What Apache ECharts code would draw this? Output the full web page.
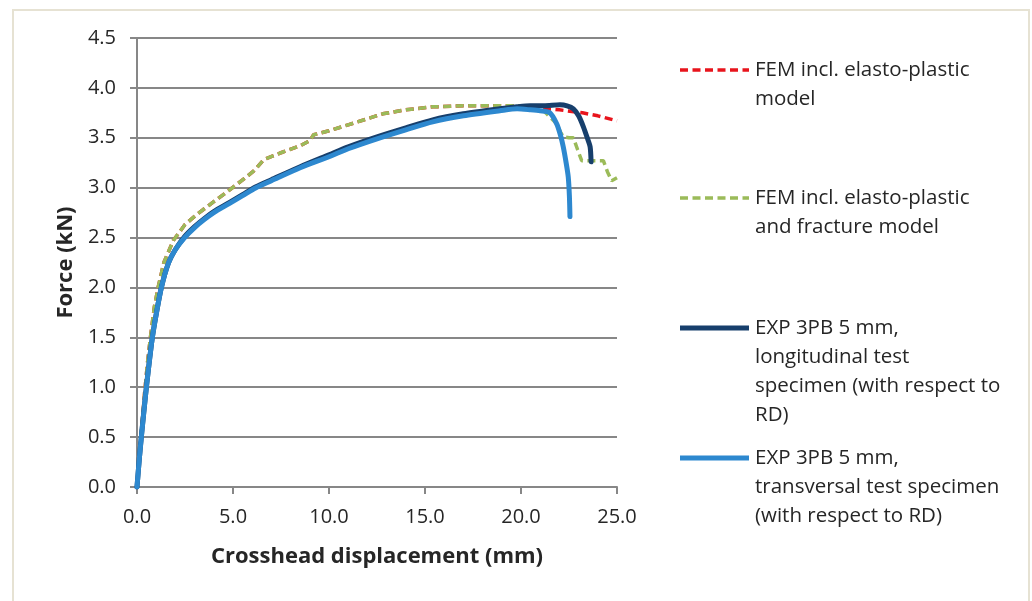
<!DOCTYPE html>
<html>
<head>
<meta charset="utf-8">
<script src="https://cdn.jsdelivr.net/npm/echarts@6/dist/echarts.min.js"></script>
<style>
  html, body { margin: 0; padding: 0; background: #ffffff; }
  #chart { width: 1032px; height: 601px; }
</style>
</head>
<body>
<div id="chart"></div>
<script>
// Force vs crosshead displacement, three-point bending, 5 mm specimens

// FEM incl. elasto-plastic model
const femPlasticX = [0, 0.12, 0.25, 0.4, 0.55, 0.7, 0.9, 1.1, 1.4, 1.89, 2.5, 3.17, 4.0, 4.7, 5.45, 6.1, 6.6, 7.5, 8.5, 9.0, 9.2, 10.0, 11.0, 12.0, 12.8, 14.0, 15.4, 17.0, 18.9, 20.0, 20.64, 21.0, 21.34, 22.0, 23.2, 24.0, 24.8, 25.0];
const femPlasticY = [0, 0.3, 0.6, 0.95, 1.25, 1.5, 1.8, 2.0, 2.25, 2.47, 2.63, 2.74, 2.86, 2.96, 3.07, 3.17, 3.28, 3.35, 3.42, 3.47, 3.53, 3.57, 3.63, 3.69, 3.74, 3.78, 3.81, 3.82, 3.82, 3.82, 3.81, 3.80, 3.79, 3.78, 3.75, 3.72, 3.68, 3.67];

// FEM incl. elasto-plastic and fracture model
const femFractureX = [0, 0.12, 0.25, 0.4, 0.55, 0.7, 0.9, 1.1, 1.4, 1.89, 2.5, 3.17, 4.0, 4.7, 5.45, 6.1, 6.6, 7.5, 8.5, 9.0, 9.2, 10.0, 11.0, 12.0, 12.8, 14.0, 15.4, 17.0, 18.9, 20.0, 20.64, 21.0, 21.34, 21.6, 21.86, 22.05, 22.2, 22.5, 22.73, 22.95, 23.16, 23.6, 24.29, 24.5, 24.72, 25.0];
const femFractureY = [0, 0.3, 0.6, 0.95, 1.25, 1.5, 1.8, 2.0, 2.25, 2.47, 2.63, 2.74, 2.86, 2.96, 3.07, 3.17, 3.28, 3.35, 3.42, 3.47, 3.53, 3.57, 3.63, 3.69, 3.74, 3.78, 3.81, 3.82, 3.82, 3.82, 3.81, 3.80, 3.74, 3.69, 3.64, 3.56, 3.51, 3.50, 3.50, 3.38, 3.27, 3.27, 3.27, 3.16, 3.07, 3.10];

// EXP 3PB 5 mm, longitudinal specimen
const expLongX = [0, 0.12, 0.25, 0.38, 0.5, 0.65, 0.8, 1.0, 1.27, 1.63, 2.0, 2.48, 3.0, 3.5, 4.0, 4.8, 5.5, 6.2, 7.0, 8.5, 10.0, 11.0, 12.5, 14.0, 15.4, 17.0, 18.9, 19.8, 20.47, 21.2, 22.03, 22.4, 22.73, 23.0, 23.25, 23.45, 23.6, 23.65];
const expLongY = [0, 0.28, 0.55, 0.8, 1.02, 1.27, 1.5, 1.73, 2.0, 2.24, 2.38, 2.51, 2.61, 2.69, 2.76, 2.85, 2.93, 3.01, 3.08, 3.21, 3.33, 3.41, 3.51, 3.60, 3.68, 3.74, 3.79, 3.81, 3.82, 3.82, 3.83, 3.82, 3.79, 3.72, 3.61, 3.50, 3.41, 3.26];

// EXP 3PB 5 mm, transversal specimen
const expTransX = [0, 0.12, 0.25, 0.38, 0.5, 0.65, 0.8, 1.0, 1.27, 1.63, 2.0, 2.48, 3.0, 3.5, 4.0, 4.8, 5.5, 6.2, 7.0, 8.5, 10.0, 11.0, 12.5, 14.0, 15.4, 17.0, 18.9, 19.8, 20.5, 21.0, 21.5, 21.86, 22.05, 22.2, 22.35, 22.46, 22.52, 22.55];
const expTransY = [0, 0.28, 0.55, 0.8, 1.02, 1.27, 1.5, 1.73, 2.0, 2.24, 2.38, 2.5, 2.6, 2.68, 2.75, 2.84, 2.92, 3.0, 3.07, 3.2, 3.31, 3.39, 3.49, 3.58, 3.66, 3.72, 3.77, 3.79, 3.78, 3.77, 3.75, 3.64, 3.53, 3.41, 3.25, 3.11, 2.92, 2.71];

const seriesNames = [
  'FEM incl. elasto-plastic model',
  'FEM incl. elasto-plastic and fracture model',
  'EXP 3PB 5 mm, longitudinal test specimen (with respect to RD)',
  'EXP 3PB 5 mm, transversal test specimen (with respect to RD)'
];
const legendTexts = [
  'FEM incl. elasto-plastic\nmodel',
  'FEM incl. elasto-plastic\nand fracture model',
  'EXP 3PB 5 mm,\nlongitudinal test\nspecimen (with respect to\nRD)',
  'EXP 3PB 5 mm,\ntransversal test specimen\n(with respect to RD)'
];
const xAxisTitle = 'Crosshead displacement (mm)';
const yAxisTitle = 'Force (kN)';

const colors = ['#e8141c', '#9bbb59', '#173f6c', '#2d88cf'];
const dashed = [true, true, false, false];
const legendY = [70, 198, 328, 458];

const FONT = '"Open Sans", Lato, sans-serif';
const TEXT = '#262626';
const GRID = '#878787';

function pairs(xs, ys) { return xs.map((x, i) => [x, ys[i]]); }
const seriesData = [
  pairs(femPlasticX, femPlasticY),
  pairs(femFractureX, femFractureY),
  pairs(expLongX, expLongY),
  pairs(expTransX, expTransY)
];

const series = seriesData.map((d, i) => ({
  name: seriesNames[i],
  type: 'line',
  data: d,
  showSymbol: false,
  symbol: 'none',
  smooth: dashed[i] ? false : 0.25,
  z: 2 + i,
  lineStyle: dashed[i]
    ? { color: colors[i], width: 3.5, type: [8, 4.5] }
    : { color: colors[i], width: 5, cap: 'round', join: 'round' },
  animation: false
}));

// legend entries: a short line sample beside wrapped text
const legendGraphics = [];
legendTexts.forEach((t, i) => {
  legendGraphics.push({
    type: 'line',
    shape: { x1: 680, y1: legendY[i], x2: 749, y2: legendY[i] },
    style: dashed[i]
      ? { stroke: colors[i], lineWidth: 3.5, lineDash: [8, 4.5] }
      : { stroke: colors[i], lineWidth: 5 },
    silent: true
  });
  legendGraphics.push({
    type: 'text',
    left: 755,
    top: legendY[i] - 14.5,
    style: {
      text: t,
      font: '20.5px ' + FONT,
      fill: TEXT,
      lineHeight: 29,
      textVerticalAlign: 'top'
    },
    silent: true
  });
});

const chart = echarts.init(document.getElementById('chart'), null, { renderer: 'canvas' });
chart.setOption({
  animation: false,
  backgroundColor: '#ffffff',
  grid: { left: 137, right: 415, top: 38, bottom: 114, containLabel: false },
  xAxis: {
    type: 'value',
    min: 0, max: 25, interval: 5,
    name: xAxisTitle,
    nameLocation: 'middle',
    nameGap: 59,
    nameTextStyle: { fontFamily: FONT, fontSize: 22, fontWeight: 'bold', color: TEXT },
    axisLine: { show: true, onZero: false, lineStyle: { color: GRID, width: 2 } },
    axisTick: { show: true, length: 7, lineStyle: { color: GRID, width: 2 } },
    axisLabel: {
      margin: 20, fontFamily: FONT, fontSize: 20, color: TEXT,
      formatter: v => v.toFixed(1)
    },
    splitLine: { show: false }
  },
  yAxis: {
    type: 'value',
    min: 0, max: 4.5, interval: 0.5,
    name: yAxisTitle,
    nameLocation: 'middle',
    nameGap: 60,
    nameRotate: 90,
    nameTextStyle: { fontFamily: FONT, fontSize: 22, fontWeight: 'bold', color: TEXT },
    axisLine: { show: true, lineStyle: { color: GRID, width: 2 } },
    axisTick: { show: true, length: 7, lineStyle: { color: GRID, width: 2 } },
    axisLabel: {
      margin: 21, fontFamily: FONT, fontSize: 20, color: TEXT,
      formatter: v => v.toFixed(1)
    },
    splitLine: { show: true, lineStyle: { color: GRID, width: 2 } }
  },
  graphic: [
    {
      type: 'rect',
      shape: { x: 13, y: 10, width: 1016, height: 620 },
      style: { fill: 'none', stroke: '#e6e2d3', lineWidth: 2 },
      silent: true, z: -10
    }
  ].concat(legendGraphics),
  series: series
});
</script>
</body>
</html>
